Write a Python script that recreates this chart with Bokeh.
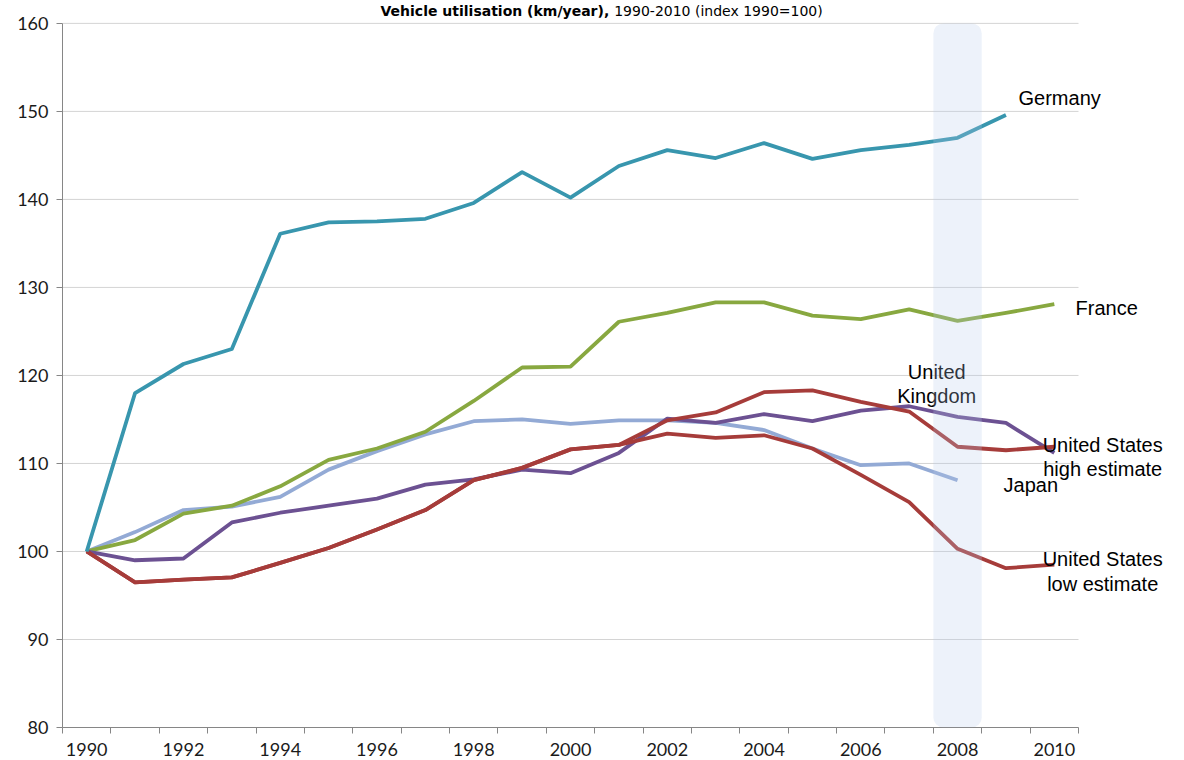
from bokeh.plotting import figure
from bokeh.models import Label, BoxAnnotation, FixedTicker, Range1d
from bokeh.embed import file_html
from bokeh.resources import INLINE

years = list(range(1990, 2011))
germany = [100, 118.0, 121.3, 123.0, 136.1, 137.4, 137.5, 137.8, 139.6, 143.1, 140.2,
           143.8, 145.6, 144.7, 146.4, 144.6, 145.6, 146.2, 147.0, 149.6]
france = [100, 101.3, 104.3, 105.2, 107.4, 110.4, 111.7, 113.6, 117.1, 120.9, 121.0,
          126.1, 127.1, 128.3, 128.3, 126.8, 126.4, 127.5, 126.2, 127.1, 128.1]
japan = [100, 102.2, 104.7, 105.1, 106.2, 109.3, 111.4, 113.3, 114.8, 115.0, 114.5,
         114.9, 114.9, 114.6, 113.8, 111.7, 109.8, 110.0, 108.1]
uk = [100, 99.0, 99.2, 103.3, 104.4, 105.2, 106.0, 107.6, 108.2, 109.3, 108.9,
      111.2, 115.1, 114.6, 115.6, 114.8, 116.0, 116.5, 115.3, 114.6, 111.2]
us_high = [100, 96.5, 96.8, 97.05, 98.7, 100.4, 102.5, 104.7, 108.1, 109.5, 111.6,
           112.1, 114.9, 115.8, 118.1, 118.3, 117.0, 115.9, 111.9, 111.5, 111.9]
us_low = [100, 96.5, 96.8, 97.05, 98.7, 100.4, 102.5, 104.7, 108.1, 109.5, 111.6,
          112.1, 113.4, 112.9, 113.2, 111.7, 108.7, 105.6, 100.3, 98.1, 98.5]
tick_years = list(range(1990, 2011, 2))
y_ticks = list(range(80, 161, 10))

X0, X1 = 1989.5, 2010.5
Y0, Y1 = 80, 160

p = figure(width=1168, height=758, output_backend="svg", toolbar_location=None,
           x_range=Range1d(X0, 2012.36), y_range=Range1d(Y0, 162.6),
           min_border_left=62, min_border_right=0, min_border_top=0, min_border_bottom=30)
p.outline_line_color = None
p.background_fill_color = "white"
p.border_fill_color = "white"

# grid lines drawn only over the category span
p.segment(x0=[X0] * len(y_ticks), x1=[X1] * len(y_ticks), y0=y_ticks, y1=y_ticks,
          line_color="#d4d4d4", line_width=1)
p.xgrid.grid_line_color = None
p.ygrid.grid_line_color = None

# axes
p.xaxis.bounds = (X0, X1)
p.xaxis.ticker = FixedTicker(ticks=tick_years, minor_ticks=[y - 0.5 for y in years] + [X1])
p.xaxis.major_tick_line_color = None
p.xaxis.minor_tick_line_color = "#868686"
p.xaxis.minor_tick_out = 6
p.xaxis.minor_tick_in = 0
p.xaxis.axis_line_color = "#868686"
p.xaxis.major_label_standoff = 9

p.yaxis.bounds = (Y0, Y1)
p.yaxis.ticker = FixedTicker(ticks=y_ticks)
p.yaxis.minor_tick_line_color = None
p.yaxis.major_tick_line_color = "#868686"
p.yaxis.major_tick_out = 6
p.yaxis.major_tick_in = 0
p.yaxis.axis_line_color = "#868686"
p.yaxis.major_label_standoff = 8

for ax in (p.xaxis, p.yaxis):
    ax.major_label_text_font = "Lato"
    ax.major_label_text_font_size = "18px"
    ax.major_label_text_color = "#1a1a1a"

lw = 3.8
p.line(years[:len(japan)], japan, color="#93aad5", line_width=lw, line_join="round")
p.line(years, france, color="#88a840", line_width=lw, line_join="round")
p.line(years, uk, color="#6c5192", line_width=lw, line_join="round")
p.line(years, us_low, color="#a63c3a", line_width=lw, line_join="round")
p.line(years, us_high, color="#a63c3a", line_width=lw, line_join="round")
p.line(years[:len(germany)], germany, color="#3896ae", line_width=lw, line_join="round")

band = BoxAnnotation(left=2007.5, right=2008.5, bottom=Y0, top=Y1,
                     fill_color="#b7cbeb", fill_alpha=0.25, line_color=None,
                     border_radius=10, level="overlay")
p.add_layout(band)

def lab(x, y, text, align="left", size="20px"):
    p.add_layout(Label(x=x, y=y, text=text, text_align=align, text_baseline="middle",
                       text_font="Liberation Sans", text_font_size=size, text_color="black"))

lab(2009.26, 151.5, "Germany")
lab(2010.44, 127.7, "France")
lab(2007.57, 120.4, "United", "center")
lab(2007.57, 117.7, "Kingdom", "center")
lab(2011.0, 112.1, "United States", "center")
lab(2011.0, 109.4, "high estimate", "center")
lab(2008.95, 107.6, "Japan")
lab(2011.0, 99.2, "United States", "center")
lab(2011.0, 96.3, "low estimate", "center")

# title
p.add_layout(Label(x=2000.8, y=Y1, y_offset=4, text="Vehicle utilisation (km/year),",
                   text_align="right", text_baseline="bottom", text_font="DejaVu Sans",
                   text_font_style="bold", text_font_size="14px", text_color="black"))
p.add_layout(Label(x=2000.8, y=Y1, x_offset=5, y_offset=4, text="1990-2010 (index 1990=100)",
                   text_align="left", text_baseline="bottom", text_font="DejaVu Sans",
                   text_font_size="14px", text_color="black"))

open("out.html", "w").write(file_html(p, INLINE))
